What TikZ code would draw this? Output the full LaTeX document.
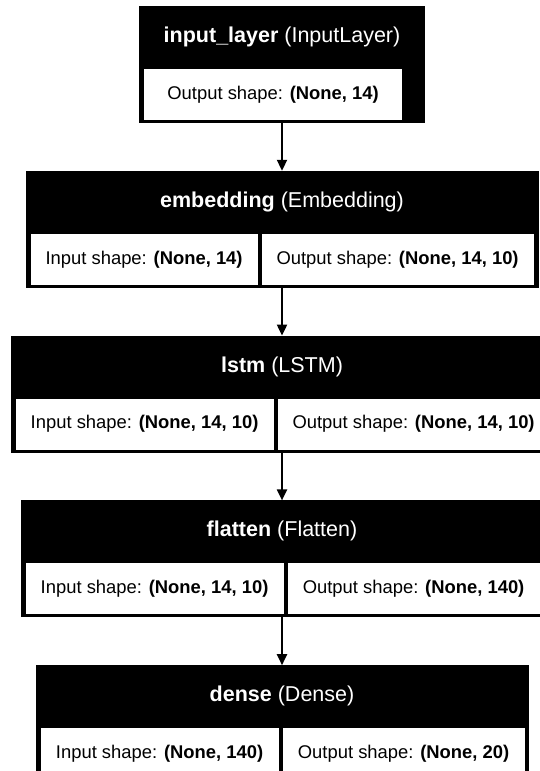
\documentclass[tikz,border=0pt]{standalone}
\usepackage{fontspec}
\setmainfont{Liberation Sans}
\usetikzlibrary{positioning,arrows.meta}

\begin{document}
\begin{tikzpicture}[x=1pt,y=-1pt,
                    -{Triangle[length=11pt,width=10pt]},line width=2pt,
                    node distance=48pt,
                    layer/.style={rectangle,draw=black,line width=.8pt,fill=black,inner sep=0pt,minimum height=116pt},
                    head/.style={text=white,inner sep=0pt,font={\fontsize{21.5}{24}\selectfont}},
                    cell/.style={rectangle,fill=white,inner sep=0pt,anchor=north west,minimum height=51pt,text centered,font={\fontsize{18.4}{22}\selectfont}}]
    \useasboundingbox (0,0) rectangle (540,771);
    \clip (0,0) rectangle (540,771);
    % layers
    \node[layer,minimum width=285pt,anchor=north] (input) at (282,6) {};
    \node[layer,minimum width=512pt] (embedding) [below=of input] {};
    \node[layer,minimum width=542pt] (lstm) [below=of embedding] {};
    \node[layer,minimum width=522pt] (flatten) [below=of lstm] {};
    \node[layer,minimum width=492pt] (dense) [below=of flatten] {};
    % titles
    \node[head] (input-title) at ([yshift=-31pt]input.north) {\textbf{input\_layer} (InputLayer)};
    \node[head] (embedding-title) at ([yshift=-31pt]embedding.north) {\textbf{embedding} (Embedding)};
    \node[head] (lstm-title) at ([yshift=-31pt]lstm.north) {\textbf{lstm} (LSTM)};
    \node[head] (flatten-title) at ([yshift=-31pt]flatten.north) {\textbf{flatten} (Flatten)};
    \node[head] (dense-title) at ([yshift=-31pt]dense.north) {\textbf{dense} (Dense)};
    % shapes
    \node[cell,minimum width=258pt] (input-out) at ([xshift=4pt,yshift=-62pt]input.north west) {Output shape: \textbf{(None, 14)}};
    \node[cell,minimum width=227pt] (embedding-in) at ([xshift=4pt,yshift=-62pt]embedding.north west) {Input shape: \textbf{(None, 14)}};
    \node[cell,minimum width=272pt] (embedding-out) at ([xshift=235pt,yshift=-62pt]embedding.north west) {Output shape: \textbf{(None, 14, 10)}};
    \node[cell,minimum width=258pt] (lstm-in) at ([xshift=4pt,yshift=-62pt]lstm.north west) {Input shape: \textbf{(None, 14, 10)}};
    \node[cell,minimum width=272pt] (lstm-out) at ([xshift=266pt,yshift=-62pt]lstm.north west) {Output shape: \textbf{(None, 14, 10)}};
    \node[cell,minimum width=258pt] (flatten-in) at ([xshift=4pt,yshift=-62pt]flatten.north west) {Input shape: \textbf{(None, 14, 10)}};
    \node[cell,minimum width=252pt] (flatten-out) at ([xshift=266pt,yshift=-62pt]flatten.north west) {Output shape: \textbf{(None, 140)}};
    \node[cell,minimum width=238pt] (dense-in) at ([xshift=4pt,yshift=-62pt]dense.north west) {Input shape: \textbf{(None, 140)}};
    \node[cell,minimum width=242pt] (dense-out) at ([xshift=246pt,yshift=-62pt]dense.north west) {Output shape: \textbf{(None, 20)}};
    % arrows
    \draw (input) -- (embedding);
    \draw (embedding) -- (lstm);
    \draw (lstm) -- (flatten);
    \draw (flatten) -- (dense);
\end{tikzpicture}
\end{document}
